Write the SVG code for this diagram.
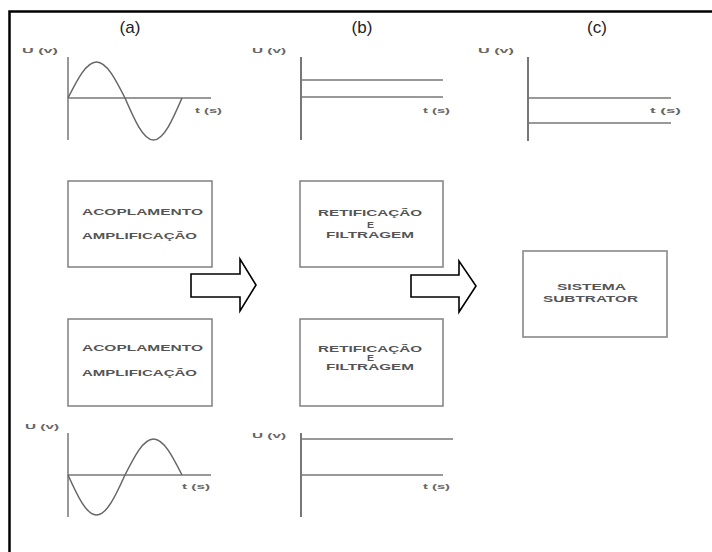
<svg xmlns="http://www.w3.org/2000/svg" width="712" height="552" viewBox="0 0 712 552">
<style>
.lbl{font-family:"Liberation Sans",Arial,sans-serif;font-size:17px;fill:#222;text-anchor:middle}
.ax{font-family:"Liberation Sans",Arial,sans-serif;font-size:8px;font-weight:bold;fill:#666}
.bt{font-family:"Liberation Sans",Arial,sans-serif;font-size:9px;font-weight:bold;fill:#555;text-anchor:middle}
.box{fill:#fff;stroke:#888;stroke-width:1.6}
.axis{stroke:#777;stroke-width:1.5;fill:none}
.vaxis{stroke:#777;stroke-width:2;fill:none}
.wave{stroke:#666;stroke-width:1.5;fill:none}
.arrow{fill:#fff;stroke:#000;stroke-width:1.6;stroke-linejoin:miter}
</style>
<rect width="712" height="552" fill="#fff"/>
<path d="M9.5 552 V11.5 H712" fill="none" stroke="#000" stroke-width="2.5"/>

<g id="labels">
<text class="lbl" x="130" y="33">(a)</text>
<text class="lbl" x="362" y="33">(b)</text>
<text class="lbl" x="597" y="33">(c)</text>
</g>

<g id="graph-a-top">
<text class="ax" x="22" y="53" textLength="36" lengthAdjust="spacingAndGlyphs">U (v)</text>
<line class="axis" x1="68" y1="57" x2="68" y2="140"/>
<line class="axis" x1="68" y1="98" x2="211" y2="98"/>
<path class="wave" d="M68 98 C77.3 79.6 86.2 62 96.5 62 C106.8 62 115.7 79.6 125 98 C134.3 119.5 143.2 140 153.5 140 C163.8 140 172.7 119.5 182 98"/>
<text class="ax" x="195" y="113" textLength="27" lengthAdjust="spacingAndGlyphs">t (s)</text>
</g>

<g id="graph-b-top">
<text class="ax" x="252" y="53" textLength="34" lengthAdjust="spacingAndGlyphs">U (v)</text>
<line class="vaxis" x1="301" y1="57" x2="301" y2="140"/>
<line class="axis" x1="301" y1="80" x2="443" y2="80"/>
<line class="axis" x1="301" y1="97" x2="443" y2="97"/>
<text class="ax" x="423" y="113" textLength="27" lengthAdjust="spacingAndGlyphs">t (s)</text>
</g>

<g id="graph-c">
<text class="ax" x="478" y="53" textLength="36" lengthAdjust="spacingAndGlyphs">U (v)</text>
<line class="vaxis" x1="528" y1="57" x2="528" y2="141"/>
<line class="axis" x1="528" y1="98" x2="671" y2="98"/>
<line class="axis" x1="528" y1="123" x2="671" y2="123"/>
<text class="ax" x="650" y="113" textLength="31" lengthAdjust="spacingAndGlyphs">t (s)</text>
</g>

<g id="box-acoplamento-1">
<rect class="box" x="68" y="181" width="144" height="86"/>
<text class="bt" x="142.5" y="215" textLength="121" lengthAdjust="spacingAndGlyphs">ACOPLAMENTO</text>
<text class="bt" x="139.5" y="239" textLength="115" lengthAdjust="spacingAndGlyphs">AMPLIFICAÇÃO</text>
</g>

<g id="box-retificacao-1">
<rect class="box" x="300" y="181" width="143" height="86"/>
<text class="bt" x="370" y="216" textLength="104" lengthAdjust="spacingAndGlyphs">RETIFICAÇÃO</text>
<text class="bt" x="370.5" y="228" textLength="7" lengthAdjust="spacingAndGlyphs">E</text>
<text class="bt" x="370" y="238" textLength="88" lengthAdjust="spacingAndGlyphs">FILTRAGEM</text>
</g>

<g id="box-subtrator">
<rect class="box" x="523" y="251" width="144" height="86"/>
<text class="bt" x="591.5" y="290" textLength="69" lengthAdjust="spacingAndGlyphs">SISTEMA</text>
<text class="bt" x="590.5" y="302" textLength="95" lengthAdjust="spacingAndGlyphs">SUBTRATOR</text>
</g>

<g id="box-acoplamento-2">
<rect class="box" x="68" y="319" width="144" height="87"/>
<text class="bt" x="142.5" y="351" textLength="121" lengthAdjust="spacingAndGlyphs">ACOPLAMENTO</text>
<text class="bt" x="139.5" y="376" textLength="115" lengthAdjust="spacingAndGlyphs">AMPLIFICAÇÃO</text>
</g>

<g id="box-retificacao-2">
<rect class="box" x="300" y="319" width="143" height="87"/>
<text class="bt" x="370" y="352" textLength="104" lengthAdjust="spacingAndGlyphs">RETIFICAÇÃO</text>
<text class="bt" x="370.5" y="361" textLength="7" lengthAdjust="spacingAndGlyphs">E</text>
<text class="bt" x="370" y="370" textLength="88" lengthAdjust="spacingAndGlyphs">FILTRAGEM</text>
</g>

<g id="graph-a-bottom">
<text class="ax" x="25" y="429" textLength="34" lengthAdjust="spacingAndGlyphs">U (v)</text>
<line class="axis" x1="68" y1="433" x2="68" y2="517"/>
<line class="axis" x1="68" y1="475" x2="211" y2="475"/>
<path class="wave" d="M68 475 C77.3 495.5 86.2 515 96.5 515 C106.8 515 115.7 495.5 125 475 C134.3 456.6 143.2 439 153.5 439 C163.8 439 172.7 456.6 182 475"/>
<text class="ax" x="182" y="489" textLength="28" lengthAdjust="spacingAndGlyphs">t (s)</text>
</g>

<g id="graph-b-bottom">
<text class="ax" x="252" y="438" textLength="34" lengthAdjust="spacingAndGlyphs">U (v)</text>
<line class="vaxis" x1="301" y1="433" x2="301" y2="517"/>
<line class="axis" x1="301" y1="439" x2="453" y2="439"/>
<line class="axis" x1="301" y1="475" x2="443" y2="475"/>
<text class="ax" x="423" y="489" textLength="27" lengthAdjust="spacingAndGlyphs">t (s)</text>
</g>

<g id="connectors">
<path class="arrow" d="M191 274 H240 V259 L256 285 L240 311 V297 H191 Z"/>
<path class="arrow" d="M411 275 H459 V261 L476 286 L459 312 V297 H411 Z"/>
</g>
</svg>
